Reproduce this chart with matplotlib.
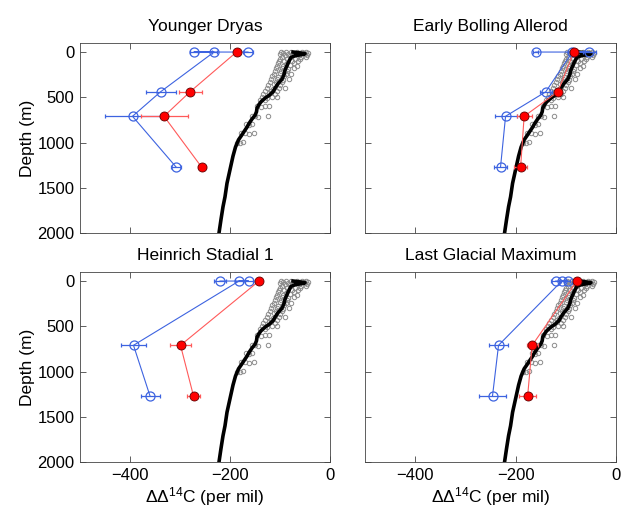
import matplotlib
matplotlib.use("Agg")
import matplotlib.pyplot as plt
import numpy as np

plt.rcParams['font.family'] = ['Liberation Sans', 'DejaVu Sans']
plt.rcParams['mathtext.fontset'] = 'custom'
plt.rcParams['mathtext.rm'] = 'Liberation Sans'
plt.rcParams['mathtext.it'] = 'Liberation Sans:italic'

# ---------------- data ----------------
titles = ["Younger Dryas", "Early Bolling Allerod", "Heinrich Stadial 1", "Last Glacial Maximum"]

# modern profile (black line)
profile_depth = [0, 8, 18, 28, 40, 60, 100, 150, 200, 250, 300, 350, 400, 440, 480, 510,
                 550, 580, 620, 660, 700, 740, 790, 830, 880, 930, 970, 1050, 1150, 1250,
                 1350, 1450, 1600, 1710, 1850, 2000]
profile_val = [-74, -62, -50, -56, -70, -78, -82, -86, -90, -92, -96, -104, -110, -114, -122, -130,
               -138, -142, -146, -147, -150, -156, -162, -166, -172, -178, -183, -189, -194, -198,
               -202, -206, -210, -214, -218, -222]

# modern observations (grey circles)
obs_depth = [0, 0, 0, 0, 0, 0, 10, 10, 12, 10, 8, 20, 22, 20, 18, 30, 34, 30,
             50, 48, 52, 50, 75, 78, 72, 75, 100, 104, 98, 100, 125, 128, 122,
             150, 155, 148, 150, 180, 176, 184, 180, 210, 214, 206,
             240, 236, 244, 240, 270, 274, 266, 300, 296, 304, 300,
             330, 334, 326, 360, 356, 364, 400, 404, 396, 400, 430, 434, 426,
             460, 456, 464, 500, 504, 496, 500, 530, 526,
             600, 604, 596, 600, 710, 706, 714, 710, 800, 804, 796,
             900, 896, 904, 900, 1000, 1004, 996]
obs_val = [-98, -88, -78, -66, -56, -48, -94, -72, -60, -52, -44, -100, -84, -68, -50, -90, -62, -46,
           -96, -80, -58, -48, -100, -86, -70, -60, -102, -92, -76, -64, -104, -88, -72,
           -106, -94, -80, -66, -108, -96, -84, -72, -110, -98, -86,
           -112, -100, -88, -78, -116, -104, -92, -118, -106, -94, -82,
           -120, -108, -96, -124, -112, -100, -126, -114, -102, -90, -130, -118, -106,
           -134, -122, -110, -136, -126, -116, -106, -140, -130,
           -146, -138, -130, -122, -156, -150, -144, -124, -168, -162, -156,
           -178, -170, -162, -152, -186, -180, -174]

# blue (open circles) series per panel
blue_depth = [[0, 0, 0, 440, 710, 1270],
              [0, 0, 0, 440, 710, 1270],
              [0, 0, 0, 710, 1270],
              [0, 0, 0, 710, 1270]]
blue_val = [[-164, -272, -232, -339, -395, -308],
            [-160, -53, -87, -140, -220, -230],
            [-220, -163, -182, -393, -360],
            [-120, -96, -108, -234, -246]]
blue_err = [[10, 8, 5, 30, 55, 10],
            [5, 13, 8, 12, 22, 13],
            [12, 8, 8, 25, 19],
            [10, 5, 5, 19, 26]]

# red (filled circles) series per panel
red_depth = [[0, 440, 710, 1270],
             [0, 440, 710, 1270],
             [0, 710, 1270],
             [0, 710, 1270]]
red_val = [[-187, -280, -332, -257],
           [-84, -116, -183, -190],
           [-142, -299, -273],
           [-78, -167, -176]]
red_err = [[5, 23, 47, 8],
           [5, 6, 15, 13],
           [5, 21, 13],
           [5, 11, 17]]

xticks = [-400, -200, 0]
yticks = [0, 500, 1000, 1500, 2000]

# ---------------- figure ----------------
W, H = 621, 515
fig = plt.figure(figsize=(W / 100, H / 100), dpi=100)

boxes = [(80, 43, 250, 190), (365, 43, 251, 190), (80, 272, 250, 190), (365, 272, 251, 190)]

blue_c = '#3d63e0'
red_line = '#ff5a5a'

for i, (l, t, w, h) in enumerate(boxes):
    ax = fig.add_axes([l / W, 1 - (t + h) / H, w / W, h / H])
    ax.plot(obs_val, obs_depth, 'o', mfc='none', mec='#8c8c8c', ms=3.2, mew=0.7, zorder=2)
    ax.plot(profile_val, profile_depth, '-', color='black', lw=2.6, zorder=3)
    ax.errorbar(blue_val[i], blue_depth[i], xerr=blue_err[i], fmt='-o', color=blue_c,
                mfc='none', mec=blue_c, ms=6.5, mew=0.9, lw=0.8, elinewidth=0.9,
                capsize=1.5, capthick=0.9, zorder=4)
    ax.errorbar(red_val[i], red_depth[i], xerr=red_err[i], fmt='-', color=red_line,
                lw=0.8, elinewidth=0.9, capsize=1.5, capthick=0.9, zorder=5)
    ax.plot(red_val[i], red_depth[i], 'o', mfc='#ff0000', mec='#600000', ms=6.5, mew=0.6, zorder=6)

    ax.set_xlim(-500, 0)
    ax.set_ylim(2000, -100)
    ax.set_xticks(xticks)
    ax.set_yticks(yticks)
    ax.tick_params(direction='in', top=True, right=True, length=4, width=0.6,
                   color='#444444', labelsize=12, pad=4)
    for s in ax.spines.values():
        s.set_linewidth(0.6)
        s.set_color('#444444')
    ax.set_title(titles[i], fontsize=12.5, pad=9)
    if i % 2 == 0:
        ax.set_ylabel('Depth (m)', fontsize=12.5, labelpad=2)
    else:
        ax.set_yticklabels([])
    if i >= 2:
        ax.set_xlabel(r'ΔΔ$^{14}$C (per mil)', fontsize=12.5, labelpad=2)
    else:
        ax.set_xticklabels([])

fig.savefig('out.png', dpi=100)
